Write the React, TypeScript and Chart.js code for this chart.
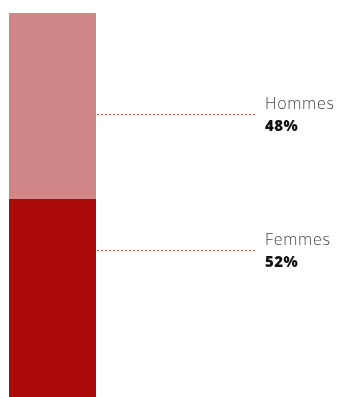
import React, { useEffect, useRef } from "react";
import { Chart, registerables } from "chart.js";

Chart.register(...registerables);

const categories = ["Répartition"];
const seriesNames = ["Femmes", "Hommes"];
const seriesValues = [52, 48];
const valueLabels = ["52%", "48%"];
const seriesColors = ["#ab0a0a", "#d08686"];
// vertical anchor of each callout, as a value on the 0-100 scale
const calloutAnchors = [38.9, 74.0];

const calloutPlugin = {
  id: "callouts",
  afterDatasetsDraw(chart: any) {
    const { ctx } = chart;
    const yScale = chart.scales.y;
    chart.data.datasets.forEach((ds: any, i: number) => {
      const meta = chart.getDatasetMeta(i);
      const bar = meta.data[0];
      if (!bar) return;
      const y = Math.round(yScale.getPixelForValue(calloutAnchors[i]));
      const x0 = Math.round(bar.x + bar.width / 2);
      const x1 = x0 + 161;
      ctx.save();
      ctx.fillStyle = "#dc5050";
      for (let x = x0 + 1; x < x1; x += 4) {
        ctx.fillRect(x, y, 2, 1);
      }
      ctx.textBaseline = "alphabetic";
      ctx.textAlign = "left";
      ctx.fillStyle = "#444444";
      ctx.font = "300 16px 'Open Sans', Lato, sans-serif";
      (ctx as any).letterSpacing = "0.7px";
      ctx.fillText(ds.label, x1 + 8, y - 5);
      ctx.fillStyle = "#111111";
      ctx.font = "800 15px 'Open Sans', Lato, sans-serif";
      (ctx as any).letterSpacing = "0.5px";
      ctx.fillText(valueLabels[i], x1 + 8, y + 16.5);
      (ctx as any).letterSpacing = "0px";
      ctx.restore();
    });
  },
};

export default function App() {
  const ref = useRef<HTMLCanvasElement>(null);
  useEffect(() => {
    if (!ref.current) return;
    const chart = new Chart(ref.current, {
      type: "bar",
      data: {
        labels: categories,
        datasets: seriesNames.map((name, i) => ({
          label: name,
          data: [seriesValues[i]],
          backgroundColor: seriesColors[i],
          borderWidth: 0,
          barPercentage: 1,
          categoryPercentage: 1,
        })),
      },
      options: {
        animation: false,
        responsive: true,
        maintainAspectRatio: false,
        layout: { padding: { left: 9, right: 242, top: 13, bottom: 0 } },
        plugins: { legend: { display: false }, tooltip: { enabled: false } },
        scales: {
          x: { stacked: true, display: false },
          y: { stacked: true, display: false, min: 0, max: 100 },
        },
      },
      plugins: [calloutPlugin],
    });
    return () => chart.destroy();
  }, []);
  return (
    <div style={{ position: "fixed", left: 0, top: 0, width: 338, height: 397, overflow: "hidden", background: "#fff" }}>
      <div style={{ position: "relative", width: 338, height: 401 }}>
        <canvas ref={ref} />
      </div>
    </div>
  );
}
